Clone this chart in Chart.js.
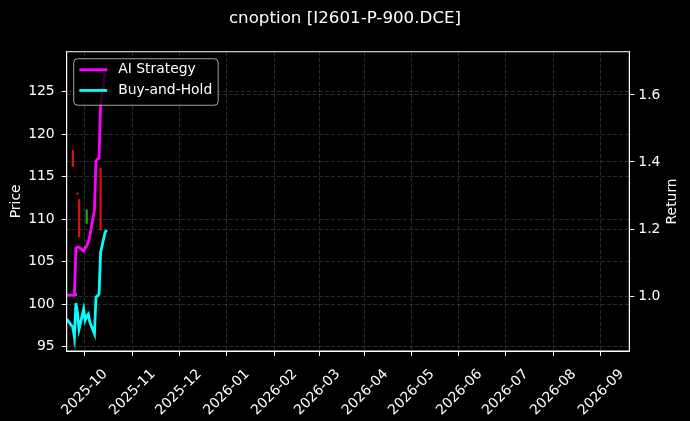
<!DOCTYPE html>
<html>
<head>
<meta charset="utf-8">
<script src="https://cdn.jsdelivr.net/npm/chart.js@4.4.1/dist/chart.umd.min.js"></script>
<style>
  html, body { margin: 0; padding: 0; background: #000; }
  canvas { display: block; }
</style>
</head>
<body>
<canvas id="optionChart" width="690" height="421"></canvas>
<script>
// data
var dates = ['2025-09-04', '2025-09-05', '2025-09-08', '2025-09-09', '2025-09-10', '2025-09-11',
  '2025-09-12', '2025-09-15', '2025-09-16', '2025-09-17', '2025-09-18', '2025-09-19',
  '2025-09-22', '2025-09-23', '2025-09-24', '2025-09-25', '2025-09-26', '2025-09-29', '2025-09-30'];
var aiStrategy = [1.003, 1.003, 1.003, 1.003, 1.143, 1.146, 1.146, 1.134, 1.143, 1.149,
  1.161, 1.179, 1.257, 1.403, 1.409, 1.412, 1.570, 1.675, 1.684];
var buyAndHold = [0.931, 0.925, 0.907, 0.878, 0.979, 0.949, 0.901, 0.961, 0.928, 0.940,
  0.946, 0.922, 0.887, 0.997, 1.000, 1.006, 1.131, 1.191, 1.197];

// option candles (price axis)
var candleDates = ['2025-09-08', '2025-09-09', '2025-09-10', '2025-09-11', '2025-09-12', '2025-09-17', '2025-09-26'];
var candleOpen  = [118.0, 95.5, 101.0, 113.1, 112.3, 109.5, 116.0];
var candleHigh  = [118.1, 95.6, 101.3, 113.1, 112.3, 111.1, 116.0];
var candleLow   = [116.2, 95.2, 101.0, 112.9, 107.9, 109.5, 108.7];
var candleClose = [116.4, 95.3, 101.2, 112.9, 108.0, 111.0, 108.8];

var monthTicks = ['2025-10', '2025-11', '2025-12', '2026-01', '2026-02', '2026-03',
  '2026-04', '2026-05', '2026-06', '2026-07', '2026-08', '2026-09'];
var priceTicks = [95, 100, 105, 110, 115, 120, 125];
var returnTicks = [1.0, 1.2, 1.4, 1.6];

function toMs(s) { return Date.parse(s + 'T00:00:00Z'); }

Chart.defaults.font.family = '"DejaVu Sans", sans-serif';
Chart.defaults.font.size = 13.9;
Chart.defaults.color = '#ffffff';

var gridColor = 'rgba(255,255,255,0.24)';

/* frame, right axis label, legend inside the axes
---------------------------- */
var framePlugin = {
  id: 'frame',
  afterDraw: function(chart) {
    var ctx = chart.ctx;
    var a = chart.chartArea;
    ctx.save();
    ctx.strokeStyle = '#ffffff';
    ctx.lineWidth = 1;
    ctx.strokeRect(a.left, a.top, a.right - a.left, a.bottom - a.top);

    // "Return" reads bottom to top like the left label
    ctx.save();
    ctx.translate(672.5, (a.top + a.bottom) / 2);
    ctx.rotate(-Math.PI / 2);
    ctx.font = '13.9px "DejaVu Sans"';
    ctx.fillStyle = '#ffffff';
    ctx.textAlign = 'center';
    ctx.textBaseline = 'middle';
    ctx.fillText('Return', 0, 0);
    ctx.restore();

    // legend
    var items = chart.data.datasets.filter(function(d) { return d.type === 'line'; });
    var bx = a.left + 7, by = a.top + 7, bw = 144.5, bh = 46.5;
    ctx.beginPath();
    ctx.roundRect(bx, by, bw, bh, 4);
    ctx.fillStyle = 'rgba(0,0,0,0.8)';
    ctx.fill();
    ctx.strokeStyle = 'rgba(204,204,204,0.8)';
    ctx.lineWidth = 1;
    ctx.stroke();
    ctx.font = '13.9px "DejaVu Sans"';
    ctx.textBaseline = 'middle';
    ctx.textAlign = 'left';
    items.forEach(function(d, i) {
      var y = by + 11 + i * 20.7;
      ctx.beginPath();
      ctx.moveTo(bx + 5.6, y);
      ctx.lineTo(bx + 33.4, y);
      ctx.strokeStyle = d.borderColor;
      ctx.lineWidth = 2.8;
      ctx.stroke();
      ctx.fillStyle = '#ffffff';
      ctx.fillText(d.label, bx + 44.5, y);
    });
    ctx.restore();
  }
};

var ctx = document.getElementById('optionChart');
var optionChart = new Chart(ctx, {
  type: 'line',
  data: {
    datasets: [{
      type: 'line',
      label: 'AI Strategy',
      data: dates.map(function(d, i) { return {x: toMs(d), y: aiStrategy[i]}; }),
      yAxisID: 'y1',
      borderColor: '#ff00ff',
      borderWidth: 2.8,
      pointRadius: 0,
      tension: 0,
      order: 2
    }, {
      type: 'line',
      label: 'Buy-and-Hold',
      data: dates.map(function(d, i) { return {x: toMs(d), y: buyAndHold[i]}; }),
      yAxisID: 'y1',
      borderColor: '#00ffff',
      borderWidth: 2.8,
      pointRadius: 0,
      tension: 0,
      order: 1
    }, {
      type: 'bar',
      label: 'Candles',
      data: candleDates.map(function(d, i) { return {x: toMs(d), y: [candleLow[i], candleHigh[i]]}; }),
      yAxisID: 'y',
      backgroundColor: candleDates.map(function(d, i) {
        return candleClose[i] >= candleOpen[i] ? 'rgba(40,170,40,0.9)' : 'rgba(235,20,20,0.9)';
      }),
      barThickness: 1.6,
      grouped: false,
      order: 3
    }]
  },
  options: {
    responsive: false,
    animation: false,
    layout: { padding: 0 },
    plugins: {
      legend: { display: false },
      tooltip: { enabled: false },
      title: {
        display: true,
        text: 'cnoption [I2601-P-900.DCE]',
        color: '#ffffff',
        font: { size: 16.7, weight: 'normal' },
        padding: { top: 9, bottom: 22.7 }
      }
    },
    scales: {
      x: {
        type: 'linear',
        min: toMs('2025-09-04'),
        max: toMs('2026-09-04'),
        offset: false,
        afterBuildTicks: function(scale) {
          scale.ticks = monthTicks.map(function(m) { return {value: toMs(m + '-01')}; });
        },
        afterFit: function(scale) { scale.height = 70; },
        ticks: {
          autoSkip: false,
          minRotation: 45,
          maxRotation: 45,
          padding: 10,
          labelOffset: -3,
          color: '#ffffff',
          callback: function(v) {
            var d = new Date(v);
            var m = d.getUTCMonth() + 1;
            return d.getUTCFullYear() + '-' + (m < 10 ? '0' + m : m);
          }
        },
        grid: { color: gridColor, lineWidth: 0.7, tickColor: '#ffffff', tickWidth: 1, tickLength: 5, tickBorderDash: [] },
        border: { display: true, color: '#ffffff', width: 1, dash: [4, 2] }
      },
      y: {
        type: 'linear',
        position: 'left',
        min: 94.49,
        max: 129.68,
        afterBuildTicks: function(scale) {
          scale.ticks = priceTicks.map(function(v) { return {value: v}; });
        },
        afterFit: function(scale) { scale.width = 66.7; },
        ticks: { padding: 7, color: '#ffffff' },
        title: { display: true, text: 'Price', color: '#ffffff', font: { size: 13.9 }, padding: { top: 8.4 } },
        grid: { color: gridColor, lineWidth: 0.7, tickColor: '#ffffff', tickWidth: 1, tickLength: 5, tickBorderDash: [] },
        border: { display: true, color: '#ffffff', width: 1, dash: [4, 2] }
      },
      y1: {
        type: 'linear',
        position: 'right',
        min: 0.836,
        max: 1.729,
        afterBuildTicks: function(scale) {
          scale.ticks = returnTicks.map(function(v) { return {value: v}; });
        },
        afterFit: function(scale) { scale.width = 60.7; },
        ticks: {
          padding: 4,
          color: '#ffffff',
          callback: function(v) { return v.toFixed(1); }
        },
        title: { display: false },
        grid: { color: gridColor, lineWidth: 0.7, tickColor: '#ffffff', tickWidth: 1, tickLength: 5, tickBorderDash: [] },
        border: { display: true, color: '#ffffff', width: 1, dash: [4, 2] }
      }
    }
  },
  plugins: [framePlugin]
});
</script>
</body>
</html>
